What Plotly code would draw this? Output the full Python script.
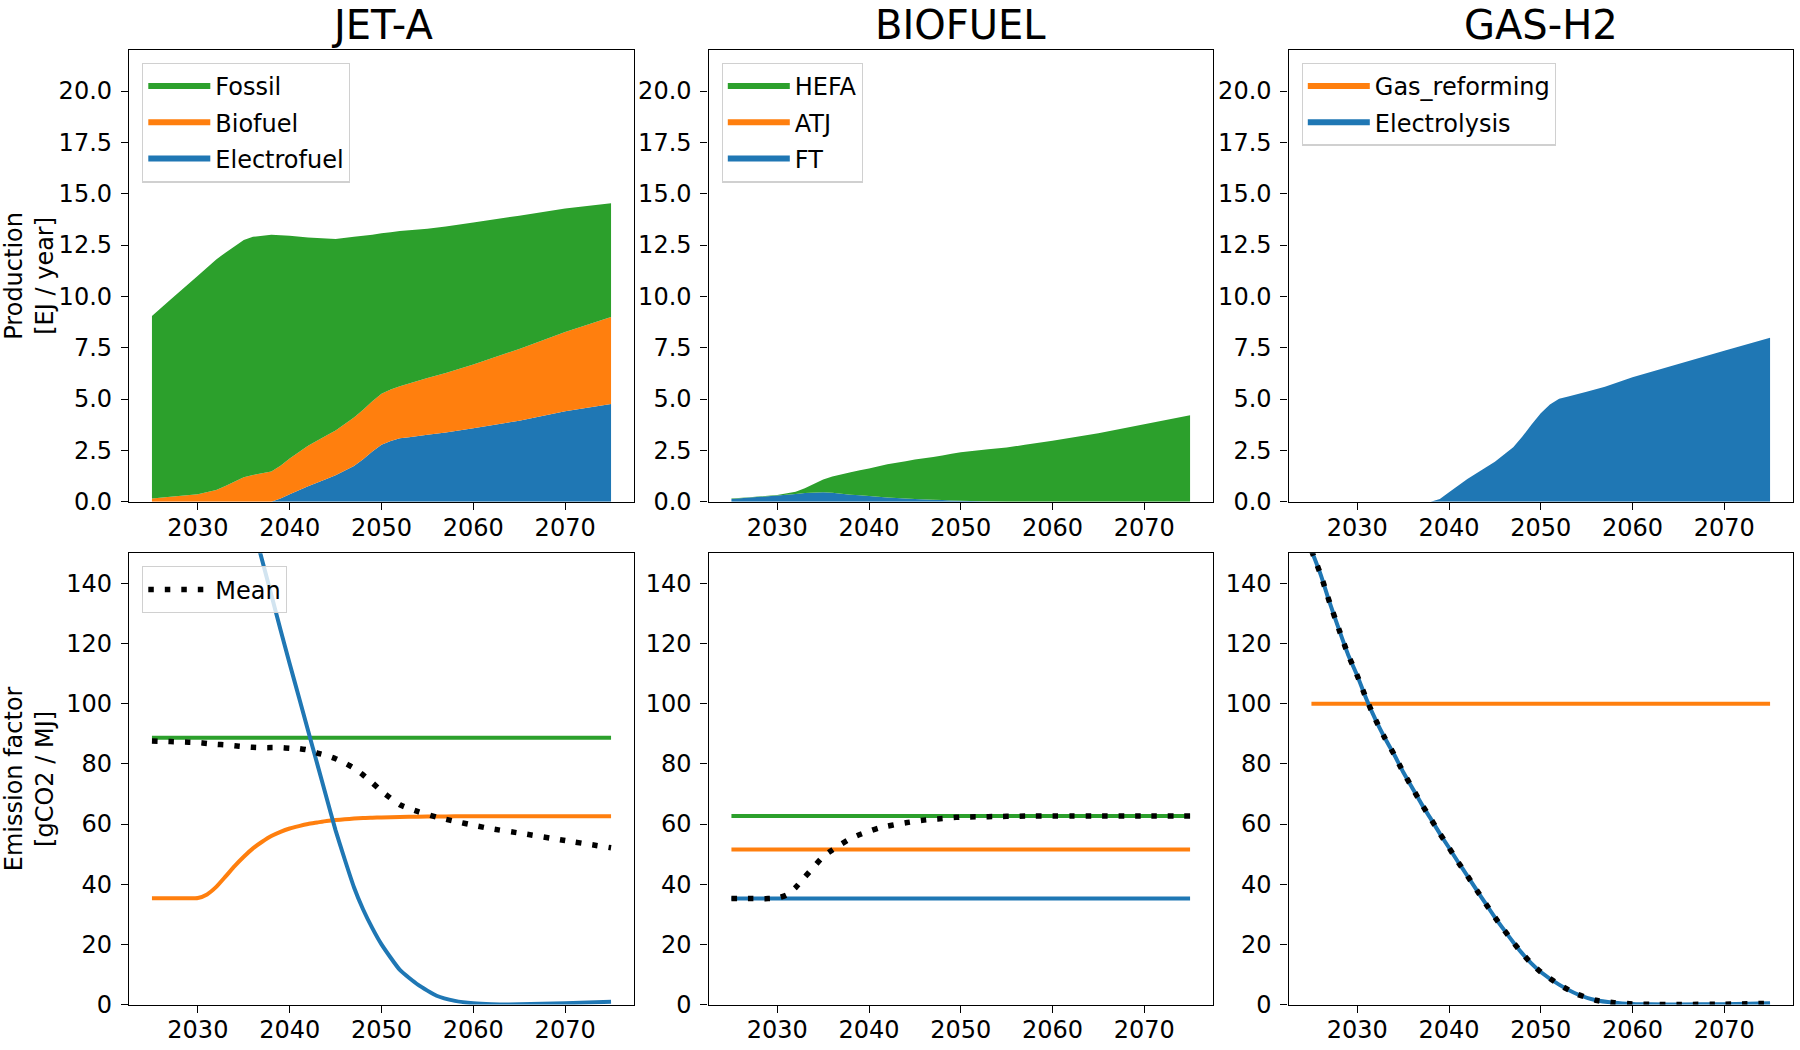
import plotly.graph_objects as go

W, H = 1800, 1050
FONT = "DejaVu Sans"
C_BLUE, C_ORANGE, C_GREEN = "#1f77b4", "#ff7f0e", "#2ca02c"

# ---------------- data: production [EJ / year] ----------------
prod_years = [2025, 2027, 2030, 2032, 2033, 2035, 2036, 2038, 2039, 2040, 2042, 2044, 2045,
              2047, 2048, 2049, 2050, 2051, 2052, 2053, 2055, 2057, 2060, 2065, 2070, 2075]

jet_fossil = [8.88, 9.60, 10.64, 11.23, 11.36, 11.56, 11.60, 11.53, 11.23, 10.85, 10.15, 9.60, 9.33,
              8.80, 8.47, 8.11, 7.82, 7.66, 7.56, 7.46, 7.27, 7.13, 6.92, 6.49, 6.02, 5.54]
jet_biofuel = [0.16, 0.24, 0.36, 0.57, 0.77, 1.19, 1.30, 1.47, 1.59, 1.74, 1.97, 2.11, 2.18,
               2.36, 2.41, 2.45, 2.49, 2.50, 2.53, 2.62, 2.77, 2.90, 3.10, 3.50, 3.86, 4.24]
jet_electrofuel = [0, 0, 0, 0, 0, 0, 0, 0, 0.16, 0.36, 0.75, 1.11, 1.29,
                   1.74, 2.07, 2.44, 2.77, 2.96, 3.09, 3.14, 3.26, 3.37, 3.58, 3.94, 4.40, 4.76]

bio_hefa = [0.02, 0.02, 0.03, 0.11, 0.24, 0.62, 0.79, 1.09, 1.22, 1.34, 1.61, 1.81, 1.92,
            2.08, 2.17, 2.27, 2.36, 2.43, 2.48, 2.54, 2.64, 2.77, 2.97, 3.33, 3.77, 4.21]
bio_atj = [0, 0, 0, 0, 0, 0, 0, 0, 0, 0, 0, 0, 0,
           0, 0, 0, 0, 0, 0, 0, 0, 0, 0, 0, 0, 0]
bio_ft = [0.13, 0.20, 0.30, 0.38, 0.42, 0.46, 0.44, 0.34, 0.31, 0.28, 0.21, 0.16, 0.13,
          0.10, 0.08, 0.06, 0.05, 0.03, 0.02, 0.01, 0, 0, 0, 0, 0, 0]

h2_gas_reforming = [0, 0, 0, 0, 0, 0, 0, 0, 0, 0, 0, 0, 0,
                    0, 0, 0, 0, 0, 0, 0, 0, 0, 0, 0, 0, 0]
h2_electrolysis = [0, 0, 0, 0, 0, 0, 0, 0, 0.13, 0.46, 1.10, 1.67, 1.95,
                   2.65, 3.17, 3.76, 4.31, 4.73, 5.02, 5.12, 5.35, 5.60, 6.06, 6.71, 7.35, 7.98]

# ---------------- data: emission factors [gCO2 / MJ] ----------------
ef_years = [2025, 2026, 2027, 2028, 2029, 2030, 2031, 2032, 2033, 2034, 2035, 2036, 2037,
            2038, 2039, 2040, 2041, 2042, 2043, 2044, 2045, 2046, 2047, 2048, 2049, 2050,
            2052, 2054, 2056, 2058, 2060, 2062, 2065, 2070, 2075]
const_years = [2025, 2075]

jet_ef_fossil = [88.7, 88.7]
jet_ef_biofuel = [35.3, 35.3, 35.3, 35.3, 35.3, 35.4, 36.6, 39.1, 42.5, 46.0, 49.1, 51.9, 54.1,
                  56.0, 57.4, 58.5, 59.3, 60.0, 60.5, 61.0, 61.3, 61.6, 61.8, 62.0, 62.1, 62.2,
                  62.35, 62.45, 62.5, 62.55, 62.6, 62.6, 62.6, 62.6, 62.6]
jet_ef_electrofuel = [260, 254, 248, 241, 234, 226, 216, 205, 194, 182, 171, 159.2, 147.7,
                      136.2, 124.6, 113.3, 102.2, 91.1, 80.0, 68.9, 57.9, 48.2, 39.0, 31.6, 25.4, 20.0,
                      11.5, 6.5, 2.9, 1.2, 0.4, 0.1, 0.05, 0.4, 0.9]
jet_ef_mean = [87.6, 87.5, 87.4, 87.3, 87.2, 87.1, 86.8, 86.5, 86.3, 86.0, 85.7, 85.5, 85.4,
               85.4, 85.4, 85.2, 85.1, 84.6, 83.6, 82.8, 81.7, 80.3, 78.6, 76.3, 73.7, 70.9,
               66.4, 64.1, 62.3, 60.9, 59.6, 58.4, 57.0, 54.5, 52.1]

bio_ef_hefa = [62.7, 62.7]
bio_ef_atj = [51.5, 51.5]
bio_ef_ft = [35.2, 35.2]
bio_ef_mean = [35.2, 35.2, 35.2, 35.2, 35.2, 35.4, 36.4, 38.9, 42.4, 45.8, 49.2, 51.4, 53.4,
               55.2, 56.5, 57.6, 58.6, 59.3, 59.9, 60.4, 60.9, 61.3, 61.6, 61.8, 62.1, 62.3,
               62.4, 62.5, 62.6, 62.7, 62.7, 62.7, 62.7, 62.7, 62.7]

h2_ef_gas_reforming = [100.0, 100.0]
h2_ef_electrolysis = [151, 143, 133.5, 124.7, 116.3, 109.3, 101.5, 94.6, 88.6, 83.2, 77.3, 72.0, 66.7,
                      61.8, 56.8, 52.1, 47.3, 42.8, 38.1, 33.5, 29.0, 24.8, 20.7, 16.9, 13.6, 10.8,
                      6.6, 3.4, 1.4, 0.6, 0.2, 0.05, 0.02, 0.1, 0.4]
h2_ef_mean = [151, 143, 133.5, 124.7, 116.3, 109.3, 101.5, 94.6, 88.6, 83.2, 77.3, 72.0, 66.7,
              61.8, 56.8, 52.1, 47.3, 42.8, 38.1, 33.5, 29.0, 24.8, 20.7, 16.9, 13.6, 10.8,
              6.6, 3.4, 1.4, 0.6, 0.2, 0.05, 0.02, 0.1, 0.4]

titles = ["JET-A", "BIOFUEL", "GAS-H2"]
prod_ticks = [0.0, 2.5, 5.0, 7.5, 10.0, 12.5, 15.0, 17.5, 20.0]
ef_ticks = [0, 20, 40, 60, 80, 100, 120, 140]
year_ticks = [2030, 2040, 2050, 2060, 2070]

# ---------------- layout geometry (pixels) ----------------
col_px = [(129, 634), (708.5, 1213), (1288.5, 1793)]
row_px = [(50, 501.7), (553.3, 1004.5)]

fig = go.Figure()


def ax_ids(k):
    return ("x" if k == 1 else f"x{k}"), ("y" if k == 1 else f"y{k}")


def add_stack(k, group, legend, names, series, colors):
    xa, ya = ax_ids(k)
    n = len(names)
    for i, (name, vals, col) in enumerate(zip(names, series, colors)):
        fig.add_trace(go.Scatter(
            x=prod_years, y=vals, name=name, stackgroup=group, mode="none",
            fillcolor=col, line=dict(width=0, color=col), legend=legend,
            legendgroup=f"{group}_{name}", legendrank=n - i,
            xaxis=xa, yaxis=ya))


# production stacks (bottom-up order; legend lists top-down)
add_stack(1, "jet", "legend", ["Electrofuel", "Biofuel", "Fossil"],
          [jet_electrofuel, jet_biofuel, jet_fossil], [C_BLUE, C_ORANGE, C_GREEN])
add_stack(2, "bio", "legend2", ["FT", "ATJ", "HEFA"],
          [bio_ft, bio_atj, bio_hefa], [C_BLUE, C_ORANGE, C_GREEN])
add_stack(3, "h2", "legend3", ["Electrolysis", "Gas_reforming"],
          [h2_electrolysis, h2_gas_reforming], [C_BLUE, C_ORANGE])


def add_line(k, x, y, color, name, show=False, dash=None, width=4, legend=None, shape="linear"):
    xa, ya = ax_ids(k)
    kw = dict(x=x, y=y, mode="lines", name=name, showlegend=show,
              line=dict(color=color, width=width, dash=dash, shape=shape),
              xaxis=xa, yaxis=ya)
    if shape == "spline":
        kw["line"]["smoothing"] = 0.5
    if legend:
        kw["legend"] = legend
    fig.add_trace(go.Scatter(**kw))


DOT = "5.5px,11px"
# JET-A emission factors
add_line(4, const_years, jet_ef_fossil, C_GREEN, "Fossil")
add_line(4, ef_years, jet_ef_biofuel, C_ORANGE, "Biofuel", shape="spline")
add_line(4, ef_years, jet_ef_electrofuel, C_BLUE, "Electrofuel", shape="spline")
add_line(4, ef_years, jet_ef_mean, "black", "Mean", show=True, dash=DOT, width=5.5,
         legend="legend4", shape="spline")
# BIOFUEL emission factors
add_line(5, const_years, bio_ef_hefa, C_GREEN, "HEFA")
add_line(5, const_years, bio_ef_atj, C_ORANGE, "ATJ")
add_line(5, const_years, bio_ef_ft, C_BLUE, "FT")
add_line(5, ef_years, bio_ef_mean, "black", "Mean", dash=DOT, width=5.5, shape="spline")
# GAS-H2 emission factors
add_line(6, const_years, h2_ef_gas_reforming, C_ORANGE, "Gas_reforming")
add_line(6, ef_years, h2_ef_electrolysis, C_BLUE, "Electrolysis", shape="spline")
add_line(6, ef_years, h2_ef_mean, "black", "Mean", dash=DOT, width=5.5, shape="spline")

axis_common = dict(showline=True, mirror=True, linecolor="black", linewidth=1.3,
                   ticks="outside", ticklen=7, tickwidth=1.3, tickcolor="black",
                   showgrid=False, zeroline=False, automargin=False,
                   tickfont=dict(family=FONT, size=24, color="black"))

layout = dict(width=W, height=H, margin=dict(l=0, r=0, t=0, b=0, autoexpand=False),
              paper_bgcolor="white", plot_bgcolor="white",
              font=dict(family=FONT, size=24, color="black"),
              showlegend=True, hovermode=False)

for r in range(2):
    for c in range(3):
        k = r * 3 + c + 1
        xname = "xaxis" if k == 1 else f"xaxis{k}"
        yname = "yaxis" if k == 1 else f"yaxis{k}"
        x0, x1 = col_px[c]
        y0, y1 = row_px[r]
        xa, ya = ax_ids(k)
        layout[xname] = dict(axis_common, domain=[x0 / W, x1 / W], range=[2022.5, 2077.5],
                             tickvals=year_ticks, anchor=ya, ticklabelstandoff=-3)
        yd = dict(axis_common, domain=[1 - y1 / H, 1 - y0 / H], anchor=xa, ticklabelstandoff=4)
        if r == 0:
            yd.update(range=[0, 22], tickvals=prod_ticks, tickformat=".1f")
        else:
            yd.update(range=[0, 150], tickvals=ef_ticks)
        if k == 1:
            yd["title"] = dict(text="Production<br>[EJ / year]", standoff=20,
                               font=dict(family=FONT, size=24, color="black"))
        if k == 4:
            yd["title"] = dict(text="Emission factor<br>[gCO2 / MJ]", standoff=20,
                               font=dict(family=FONT, size=24, color="black"))
        layout[yname] = yd

leg_common = dict(bgcolor="rgba(255,255,255,0.8)", bordercolor="#d0d0d0", borderwidth=1.3,
                  font=dict(family=FONT, size=24, color="black"), itemwidth=62,
                  traceorder="grouped", tracegroupgap=2,
                  xanchor="left", yanchor="top")
layout["legend"] = dict(leg_common, x=(col_px[0][0] + 13) / W, y=1 - (row_px[0][0] + 12.7) / H)
layout["legend2"] = dict(leg_common, x=(col_px[1][0] + 13) / W, y=1 - (row_px[0][0] + 12.7) / H)
layout["legend3"] = dict(leg_common, x=(col_px[2][0] + 13) / W, y=1 - (row_px[0][0] + 12.7) / H)
layout["legend4"] = dict(leg_common, x=(col_px[0][0] + 13) / W, y=1 - (row_px[1][0] + 12.7) / H)

annotations = []
for c, t in enumerate(titles):
    x0, x1 = col_px[c]
    annotations.append(dict(text=t, x=(x0 + x1) / 2 / W, y=1 - row_px[0][0] / H,
                            xref="paper", yref="paper", xanchor="center", yanchor="bottom",
                            showarrow=False, font=dict(family=FONT, size=40, color="black")))
layout["annotations"] = annotations

fig.update_layout(**layout)
fig.write_html("out.html")
